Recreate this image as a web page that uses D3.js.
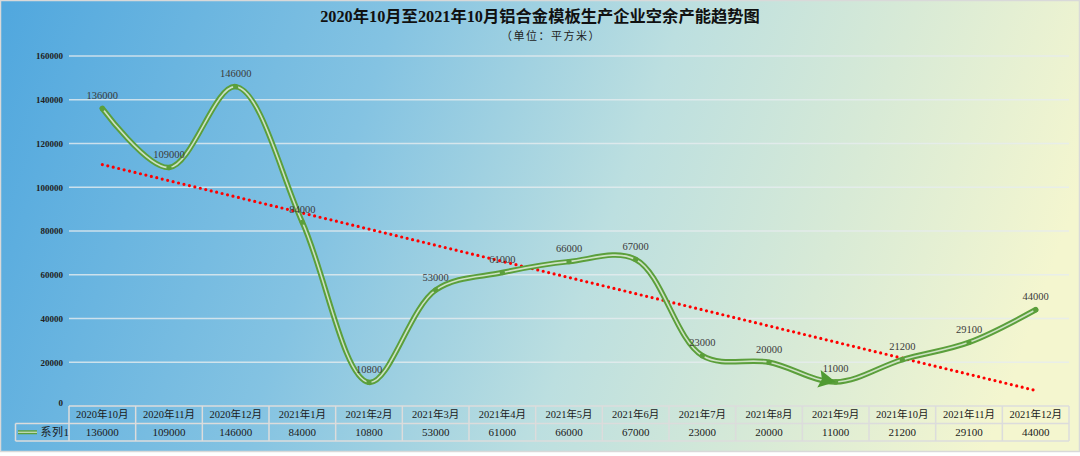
<!DOCTYPE html>
<html>
<head>
<meta charset="utf-8">
<script src="https://cdn.jsdelivr.net/npm/d3@7"></script>
<style>
html,body{margin:0;padding:0;background:#ffffff;}
svg{display:block;}
</style>
</head>
<body>
<svg id="chart" width="1080" height="456"></svg>
<script>
const titleText = "2020年10月至2021年10月铝合金模板生产企业空余产能趋势图";
const subtitleText = "（单位：平方米）";
const categories = ["2020年10月","2020年11月","2020年12月","2021年1月","2021年2月","2021年3月","2021年4月","2021年5月","2021年6月","2021年7月","2021年8月","2021年9月","2021年10月","2021年11月","2021年12月"];
const values = [136000,109000,146000,84000,10800,53000,61000,66000,67000,23000,20000,11000,21200,29100,44000];
const yTicks = [0,20000,40000,60000,80000,100000,120000,140000,160000];
const seriesName = "系列1";
const arrowIndex = 11;

(function(){
const svg = d3.select("#chart");
const W = 1080, H = 456;
const serif = "'Liberation Serif','Noto Sans CJK SC',serif";

const defs = svg.append("defs");
const grad = defs.append("linearGradient").attr("id","bg")
  .attr("gradientUnits","userSpaceOnUse")
  .attr("x1",0).attr("y1",0).attr("x2",1020).attr("y2",360);
[[0,"#50a7de"],[0.35,"#84c3e2"],[0.6,"#bcdfe0"],[0.8,"#d8ead6"],[1,"#f4f6cf"]]
  .forEach(s=>grad.append("stop").attr("offset",s[0]).attr("stop-color",s[1]));

svg.append("rect").attr("x",0.5).attr("y",0.5).attr("width",W-1).attr("height",451)
  .attr("fill","url(#bg)").attr("stroke","#d9d9d9").attr("stroke-width",1.5);

const pL = 69, pR = 1069, pT = 56, pB = 406;
const x = d3.scaleBand().domain(categories).range([pL,pR]).padding(0);
const y = d3.scaleLinear().domain([0,160000]).range([pB,pT]);
const cx = c => x(c) + x.bandwidth()/2;

svg.append("g").selectAll("line").data(yTicks.filter(d=>d>0)).join("line")
  .attr("x1",pL).attr("x2",pR)
  .attr("y1",d=>y(d)).attr("y2",d=>y(d))
  .attr("stroke","#e6ecef").attr("stroke-opacity",0.8).attr("stroke-width",1.5);

const yAxis = d3.axisLeft(y).tickValues(yTicks).tickSize(0).tickPadding(6).tickFormat(d3.format("d"));
const ya = svg.append("g").attr("transform",`translate(${pL},0)`).call(yAxis);
ya.select(".domain").remove();
ya.selectAll("text").attr("font-family",serif).attr("font-size",9).attr("font-weight","bold")
  .attr("fill","#222").attr("dy","0.32em");
ya.selectAll(".tick").filter(d=>d===0).select("text").attr("dy","-0.05em");

svg.append("text").attr("x",540).attr("y",22).attr("text-anchor","middle")
  .attr("font-family",serif).attr("font-weight","bold").attr("font-size",16.3)
  .attr("fill","#111").text(titleText);
svg.append("text").attr("x",551).attr("y",40).attr("text-anchor","middle")
  .attr("font-family",serif).attr("font-size",11).attr("letter-spacing",1.5)
  .attr("fill","#222").text(subtitleText);

const n = values.length;
const xs = d3.range(1,n+1);
const mx = d3.mean(xs), my = d3.mean(values);
const slope = d3.sum(xs.map((xi,i)=>(xi-mx)*(values[i]-my))) / d3.sum(xs.map(xi=>(xi-mx)*(xi-mx)));
const icpt = my - slope*mx;
svg.append("line")
  .attr("x1",cx(categories[0])).attr("y1",y(icpt+slope*1))
  .attr("x2",cx(categories[n-1])).attr("y2",y(icpt+slope*n))
  .attr("stroke","#ff0000").attr("stroke-width",3.2)
  .attr("stroke-linecap","round").attr("stroke-dasharray","0 5.6");

const pts = categories.map((c,i)=>[cx(c),y(values[i])]);
const line = d3.line().curve(d3.curveCatmullRom.alpha(0.5));
svg.append("path").attr("d",line(pts)).attr("fill","none")
  .attr("stroke","#5b9f3b").attr("stroke-width",5.5).attr("stroke-linejoin","round").attr("stroke-linecap","round");
svg.append("path").attr("d",line(pts)).attr("fill","none")
  .attr("stroke","#ffffff").attr("stroke-opacity",0.7).attr("stroke-width",1.6).attr("stroke-linejoin","round").attr("stroke-linecap","round");

svg.append("g").selectAll("circle").data(pts).join("circle")
  .attr("cx",d=>d[0]).attr("cy",d=>d[1]).attr("r",2.6).attr("fill","#5b9f3b");

{
  const p = pts[arrowIndex], pp = pts[arrowIndex-1], pn = pts[arrowIndex+1];
  const ang = Math.atan2(pn[1]-pp[1], pn[0]-pp[0]) * 180/Math.PI + 12;
  svg.append("path").attr("d","M0,0 L-17,-9 L-14,0 L-17,9 Z")
    .attr("transform",`translate(${p[0]},${p[1]}) rotate(${ang})`)
    .attr("fill","#4f9a31");
}

svg.append("g").selectAll("text").data(categories).join("text")
  .attr("x",c=>cx(c)).attr("y",(c,i)=>y(values[i])-9.5)
  .attr("text-anchor","middle").attr("font-family",serif).attr("font-size",10.5)
  .attr("fill","#3a3a3a").text((c,i)=>values[i]);

const tTop = pB, rowH = 17.5, tLeft = 15.5;
const tb = svg.append("g");
const bc = "#dcdcdc";
tb.append("line").attr("x1",pL).attr("x2",pR).attr("y1",tTop).attr("y2",tTop).attr("stroke",bc).attr("stroke-width",1.5);
tb.append("line").attr("x1",tLeft).attr("x2",pR).attr("y1",tTop+rowH).attr("y2",tTop+rowH).attr("stroke",bc).attr("stroke-width",1.5);
tb.append("line").attr("x1",tLeft).attr("x2",pR).attr("y1",tTop+2*rowH).attr("y2",tTop+2*rowH).attr("stroke",bc).attr("stroke-width",1.5);
tb.append("line").attr("x1",tLeft).attr("x2",tLeft).attr("y1",tTop+rowH).attr("y2",tTop+2*rowH).attr("stroke",bc).attr("stroke-width",1.5);
tb.selectAll("line.v").data(categories.concat(["end"])).join("line").attr("class","v")
  .attr("x1",(c,i)=>pL+i*x.bandwidth()).attr("x2",(c,i)=>pL+i*x.bandwidth())
  .attr("y1",tTop).attr("y2",tTop+2*rowH).attr("stroke",bc).attr("stroke-width",1.5);
tb.selectAll("text.h").data(categories).join("text").attr("class","h")
  .attr("x",c=>cx(c)).attr("y",tTop+rowH/2).attr("dy","0.35em").attr("text-anchor","middle")
  .attr("font-family",serif).attr("font-size",10.5).attr("fill","#1a1a1a").text(c=>c);
tb.selectAll("text.v").data(categories).join("text").attr("class","v")
  .attr("x",c=>cx(c)).attr("y",tTop+rowH*1.5).attr("dy","0.35em").attr("text-anchor","middle")
  .attr("font-family",serif).attr("font-size",11).attr("fill","#1a1a1a").text((c,i)=>values[i]);
tb.append("line").attr("x1",18).attr("x2",37).attr("y1",tTop+rowH*1.5).attr("y2",tTop+rowH*1.5)
  .attr("stroke","#5b9f3b").attr("stroke-width",4);
tb.append("line").attr("x1",18).attr("x2",37).attr("y1",tTop+rowH*1.5).attr("y2",tTop+rowH*1.5)
  .attr("stroke","#ffffff").attr("stroke-opacity",0.7).attr("stroke-width",1.2);
tb.append("text").attr("x",40.5).attr("y",tTop+rowH*1.5).attr("dy","0.35em")
  .attr("font-family",serif).attr("font-size",11).attr("letter-spacing",0.5).attr("fill","#1a1a1a").text(seriesName);
})();
</script>
</body>
</html>
